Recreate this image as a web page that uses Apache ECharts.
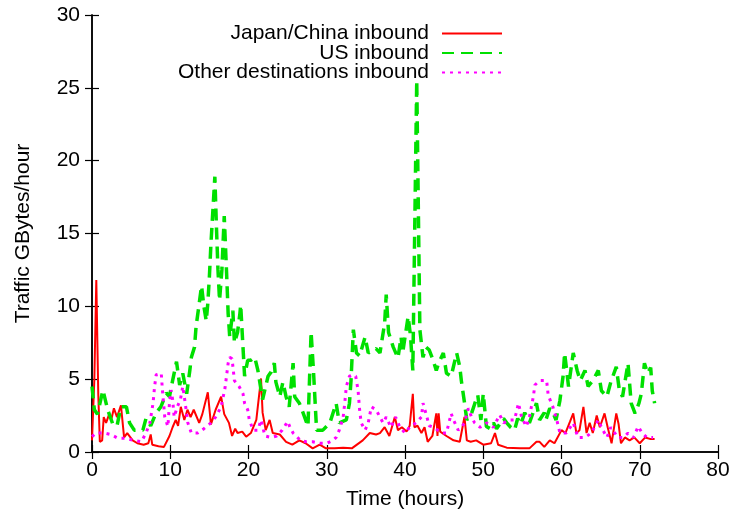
<!DOCTYPE html>
<html lang="en" style="height: 100%">
<head>
  <meta charset="utf-8">
</head>
<body style="height: 100%; margin: 0">
<div id="container" style="width: 735px; height: 516px"></div>

<script type="text/javascript" src="https://cdn.jsdelivr.net/npm/echarts@6/dist/echarts.min.js"></script>

<script type="text/javascript">
  // [hour, GBytes/hour]
  var japanChina = [
    [0,0.8],[0.3,5.0],[0.55,11.8],[0.8,4.0],[1.0,0.7],[1.3,0.8],[1.5,2.4],[1.8,2.0],[2.2,2.6],[2.5,2.3],
    [2.8,3.0],[3.2,2.4],[3.7,3.2],[4.1,1.0],[4.5,1.3],[5.2,0.8],[5.8,0.6],[6.6,0.5],[7.2,0.6],[7.5,1.2],
    [7.7,0.5],[8.5,0.4],[9.2,0.35],[9.9,1.1],[10.3,1.7],[10.7,2.2],[11.0,1.8],[11.35,3.1],[11.8,2.2],[12.2,2.9],
    [12.6,2.4],[13.0,2.9],[13.7,2.0],[14.1,2.6],[14.8,4.1],[15.2,1.9],[15.8,2.9],[16.5,3.8],[16.9,2.6],[17.5,2.0],
    [17.9,1.1],[18.3,1.6],[18.6,1.3],[19.2,1.4],[19.7,1.05],[20.3,1.3],[21.0,2.2],[21.6,5.05],[21.8,2.7],[22.2,1.5],
    [22.7,2.2],[23.1,1.3],[24.0,1.2],[24.8,0.7],[25.6,0.5],[26.5,0.8],[27.3,0.6],[28.2,0.25],[29.1,0.5],[29.9,0.25],
    [31.0,0.25],[32.1,0.3],[33.2,0.25],[34.6,0.8],[35.5,1.3],[36.3,1.2],[36.8,1.3],[37.4,1.7],[38.0,1.1],[38.7,2.4],
    [39.1,1.5],[39.6,1.7],[40.2,1.4],[40.6,1.8],[41.0,4.0],[41.2,1.7],[41.6,1.8],[42.1,1.3],[42.5,1.7],[42.9,0.7],
    [43.5,1.1],[44.0,2.65],[44.15,1.1],[44.3,2.65],[44.5,1.4],[45.3,1.1],[46.2,0.8],[47.0,0.7],[47.6,2.4],[47.9,0.8],
    [48.4,0.7],[49.1,0.8],[50.0,0.5],[51.0,0.6],[51.5,1.3],[51.9,0.5],[53.0,0.3],[54.7,0.25],[55.9,0.25],[56.8,0.7],
    [57.2,0.7],[57.8,0.35],[58.5,0.8],[59.1,0.6],[60.0,1.5],[60.5,1.3],[61.1,2.1],[61.5,2.65],[61.9,1.3],[62.3,1.5],
    [62.8,3.1],[63.2,1.3],[63.6,2.0],[64.0,1.3],[64.5,2.5],[64.9,1.7],[65.5,2.65],[65.9,1.7],[66.4,0.6],[67.0,2.65],
    [67.3,1.9],[67.6,0.6],[68.1,1.0],[68.7,0.8],[69.3,1.0],[70.0,0.6],[70.7,1.0],[71.3,0.9],[71.9,0.9]
  ];

  var usInbound = [
    [0,4.5],[0.3,2.9],[0.7,2.6],[1.4,4.25],[2.0,2.9],[2.7,1.85],[3.2,1.8],[3.7,3.1],[4.4,3.1],[4.8,2.0],
    [5.4,1.5],[6.5,1.5],[6.9,2.3],[7.5,1.8],[8.2,2.7],[8.8,3.1],[9.5,4.05],[9.9,3.8],[10.3,4.9],[10.8,6.2],
    [11.2,4.6],[11.6,5.4],[12.1,4.0],[12.5,5.6],[12.7,6.5],[13.1,7.2],[13.3,8.6],[13.75,10.4],[14.0,11.4],[14.3,10.0],
    [14.6,9.0],[14.8,10.2],[15.0,12.0],[15.2,14.3],[15.7,18.9],[15.9,15.5],[16.1,12.5],[16.3,10.4],[16.6,12.5],[16.9,16.2],
    [17.2,12.3],[17.4,9.5],[17.6,7.9],[18.0,9.7],[18.2,7.5],[18.6,8.2],[18.9,9.5],[19.0,10.1],[19.5,5.2],[19.9,6.3],
    [20.3,6.3],[20.8,6.5],[21.2,5.6],[21.8,3.6],[22.5,5.2],[22.9,5.5],[23.3,6.1],[23.5,4.8],[24.0,3.8],[24.4,4.8],
    [24.8,3.8],[25.2,3.1],[25.7,6.1],[25.9,3.8],[26.5,3.35],[27.0,2.65],[27.6,1.75],[28.0,8.25],[28.3,5.6],[28.7,1.5],
    [29.5,1.5],[30.4,2.0],[31.2,3.35],[31.6,2.0],[32.5,2.2],[32.9,3.35],[33.1,4.9],[33.4,8.4],[33.8,6.8],[34.2,6.6],
    [34.9,7.9],[35.3,6.8],[36.3,7.1],[36.8,6.8],[37.4,8.85],[37.6,10.8],[37.9,8.2],[38.5,7.2],[39.1,6.45],[39.5,7.9],
    [39.7,6.8],[40.4,9.3],[40.7,8.0],[41.0,5.6],[41.5,25.5],[41.9,8.4],[42.3,6.5],[42.7,7.2],[43.1,7.0],[43.6,6.3],
    [44.0,5.6],[44.3,6.1],[44.9,6.8],[45.3,5.4],[45.9,5.2],[46.6,6.8],[47.0,5.85],[47.2,4.9],[47.6,3.4],[47.9,2.2],
    [48.5,2.65],[48.9,3.3],[49.3,3.9],[49.7,2.2],[50.0,4.0],[50.4,1.75],[50.9,1.6],[51.3,2.0],[51.7,1.6],[52.2,2.0],
    [52.6,2.3],[53.0,2.0],[53.5,1.7],[54.0,1.5],[54.4,2.3],[54.8,1.9],[55.3,2.7],[55.9,2.0],[56.3,2.6],[56.8,3.35],
    [57.2,2.2],[57.8,2.7],[58.0,2.2],[58.5,3.0],[58.9,2.7],[59.3,2.2],[59.8,3.55],[60.2,5.2],[60.4,6.8],[60.9,4.5],
    [61.5,6.8],[62.0,5.6],[62.4,4.9],[63.0,5.6],[63.4,4.5],[64.0,4.9],[64.7,5.6],[65.1,4.2],[65.8,3.8],[66.3,4.8],
    [67.0,5.85],[67.4,4.2],[67.8,3.8],[68.5,6.1],[68.9,3.35],[69.4,2.65],[69.9,3.35],[70.2,4.0],[70.6,6.1],[71.0,5.4],
    [71.4,5.8],[71.6,4.2],[71.9,3.35]
  ];

  var otherDest = [
    [0,1.05],[0.5,1.3],[1.6,1.3],[2.4,1.2],[3.3,0.95],[4.2,0.95],[5.3,0.8],[6.3,0.7],[6.9,1.3],[7.4,2.0],
    [7.8,3.35],[8.0,4.5],[8.2,5.3],[8.85,5.4],[9.0,4.25],[9.3,2.4],[9.7,1.75],[9.9,3.35],[10.1,4.25],[10.3,3.6],
    [10.5,2.4],[10.9,3.1],[11.3,3.6],[11.6,4.5],[11.9,3.4],[12.25,2.0],[12.7,1.3],[13.5,1.3],[14.3,1.6],[15.2,2.0],
    [15.8,2.4],[16.5,3.1],[17.0,4.4],[17.4,6.1],[17.6,6.5],[17.9,6.4],[18.2,4.9],[18.4,4.9],[18.8,4.5],[19.3,4.0],
    [19.5,3.35],[19.9,2.9],[20.1,2.2],[20.6,1.5],[21.2,1.5],[21.6,2.2],[22.1,1.1],[22.9,1.0],[23.6,1.1],[24.3,1.5],
    [24.6,1.75],[25.0,2.1],[25.3,1.7],[25.7,1.3],[26.1,1.1],[26.6,0.8],[27.4,0.7],[28.2,0.7],[29.1,0.6],[30.0,0.6],
    [30.8,0.8],[31.2,1.0],[31.6,1.5],[32.1,2.4],[32.3,3.35],[32.5,4.5],[32.9,5.2],[33.35,5.3],[33.7,5.2],[34.0,4.25],
    [34.2,2.9],[34.4,2.0],[34.9,1.5],[35.3,2.0],[35.7,3.1],[36.3,2.9],[36.8,2.4],[37.2,2.0],[37.6,2.4],[38.2,1.7],
    [38.8,2.4],[39.3,1.75],[40.0,1.3],[40.6,1.7],[41.4,2.0],[42.1,2.4],[42.3,3.35],[42.7,2.6],[43.1,1.8],[43.6,1.7],
    [44.2,1.5],[44.8,1.3],[45.3,1.3],[45.9,2.65],[46.2,2.2],[46.8,1.5],[47.2,1.7],[47.6,2.0],[48.1,3.0],[48.5,2.4],
    [48.9,2.0],[49.6,1.7],[50.4,2.0],[51.3,1.7],[52.1,2.55],[52.6,2.0],[53.3,2.2],[54.0,2.2],[54.5,3.35],[54.9,2.4],
    [55.5,1.75],[55.9,2.4],[56.4,3.8],[56.6,4.6],[57.2,4.9],[58.1,4.9],[58.3,3.9],[58.9,3.1],[59.4,2.2],[59.8,1.3],
    [60.6,1.3],[61.5,2.0],[62.1,1.0],[63.0,1.0],[63.8,1.3],[64.7,2.2],[65.1,1.7],[65.8,1.0],[66.3,1.7],[67.2,1.0],
    [67.9,1.0],[68.5,1.3],[69.2,1.0],[69.8,1.75],[70.3,1.3],[70.9,1.0],[71.7,1.0]
  ];

  var seriesNames = ['Japan/China inbound', 'US inbound', 'Other destinations inbound'];

  var dom = document.getElementById('container');
  var myChart = echarts.init(dom, null, { renderer: 'canvas' });

  var font = 'Liberation Sans, Arial, sans-serif';
  var frameAxis = {
    type: 'value',
    axisLine: { show: true, lineStyle: { color: '#000', width: 1.5 } },
    axisTick: { show: true, inside: true, length: 7, lineStyle: { color: '#000', width: 1.2 } },
    splitLine: { show: false }
  };

  var option = {
    animation: false,
    backgroundColor: '#fff',
    textStyle: { fontFamily: font },
    grid: { left: 92, right: 17, top: 15, bottom: 64 },
    legend: {
      orient: 'vertical',
      align: 'right',
      right: 232,
      top: 23,
      padding: 0,
      itemWidth: 60,
      itemHeight: 14,
      itemGap: -1.5,
      // hide the symbol that ECharts puts in the middle of line legend icons
      itemStyle: { color: 'rgba(0,0,0,0)', borderWidth: 0, opacity: 0 },
      textStyle: { fontSize: 21, lineHeight: 19, color: '#000', fontFamily: font, padding: [0, 8, 0, 0] },
      data: seriesNames
    },
    xAxis: [
      Object.assign({}, frameAxis, {
        min: 0, max: 80, interval: 10,
        name: 'Time (hours)', nameLocation: 'middle', nameGap: 37,
        nameTextStyle: { fontSize: 21, color: '#000' },
        axisLabel: { fontSize: 21, color: '#000', margin: 8 }
      }),
      Object.assign({}, frameAxis, {
        position: 'top', min: 0, max: 80, interval: 10, axisLabel: { show: false }
      })
    ],
    yAxis: [
      Object.assign({}, frameAxis, {
        min: 0, max: 30, interval: 5,
        name: 'Traffic GBytes/hour', nameLocation: 'middle', nameGap: 58,
        nameTextStyle: { fontSize: 21, color: '#000' },
        axisLabel: { fontSize: 21, color: '#000', margin: 12 }
      }),
      Object.assign({}, frameAxis, {
        position: 'right', min: 0, max: 30, interval: 5, axisLabel: { show: false }
      })
    ],
    series: [
      {
        name: seriesNames[0], type: 'line', data: japanChina, symbol: 'none',
        itemStyle: { color: '#ff0000' },
        lineStyle: { color: '#ff0000', width: 2 }
      },
      {
        name: seriesNames[1], type: 'line', data: usInbound, symbol: 'none',
        itemStyle: { color: '#00e000' },
        lineStyle: { color: '#00e000', width: 3.5, type: [12, 7] }
      },
      {
        name: seriesNames[2], type: 'line', data: otherDest, symbol: 'none',
        itemStyle: { color: '#ff00ff' },
        lineStyle: { color: '#ff00ff', width: 3, type: [3, 5] }
      }
    ]
  };

  myChart.setOption(option);
  window.addEventListener('resize', myChart.resize);
</script>
</body>
</html>
